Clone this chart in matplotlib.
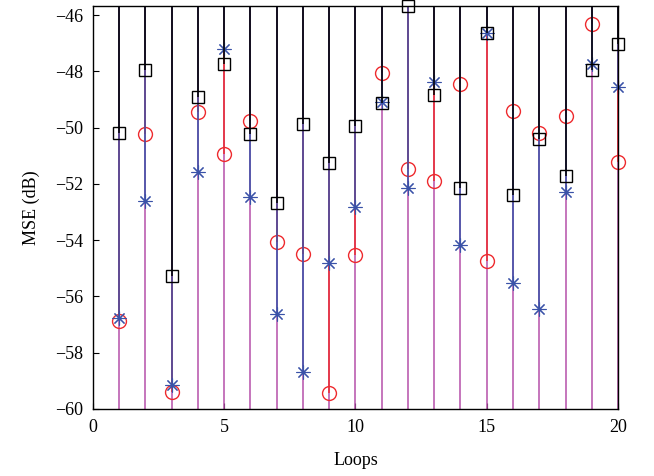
import matplotlib
matplotlib.use("Agg")
import matplotlib.pyplot as plt

loops = list(range(1, 21))

# MSE (dB) per loop
mse_square = [-50.18, -47.96, -55.29, -48.91, -47.72, -50.23, -52.69, -49.88, -51.26, -49.93,
              -49.14, -45.68, -48.84, -52.13, -46.62, -52.39, -50.40, -51.72, -47.94, -47.04]
mse_star = [-56.77, -52.61, -59.14, -51.59, -47.22, -52.45, -56.62, -58.69, -54.82, -52.81,
            -49.10, -52.13, -48.36, -54.19, -46.62, -55.51, -56.45, -52.27, -47.74, -48.55]
mse_circle = [-56.87, -50.24, -59.40, -49.44, -50.95, -49.75, -54.05, -54.50, -59.45, -54.52,
              -48.04, -51.46, -51.90, -48.43, -54.74, -49.41, -50.20, -49.58, -46.33, -51.21]
# fourth series lies below the visible range (only its stems show)
mse_low = [-65.0] * 20

plt.rcParams['font.family'] = ['Liberation Serif', 'DejaVu Serif']

fig = plt.figure(figsize=(6.54, 4.76), dpi=100)
ax = fig.add_axes([0.142, 0.141, 0.803, 0.846])

# MATLAB-like '*' = 8-armed asterisk
series = [
    (mse_low, '#b550aa', None, 0, 0),
    (mse_circle, '#ee2a2e', 'o', 10, 1.0),
    (mse_star, '#3a52a8', (8, 2, 0), 10, 0.8),
    (mse_square, '#000000', 's', 9, 1.0),
]

for vals, col, mk, ms, mew in series:
    markerline, stemlines, baseline = ax.stem(loops, vals, bottom=0, basefmt=' ')
    stemlines.set_color(col)
    stemlines.set_linewidth(1.1)
    baseline.set_visible(False)
    if mk is None:
        markerline.set_visible(False)
        continue
    markerline.set_marker(mk)
    markerline.set_markersize(ms)
    markerline.set_markerfacecolor('none')
    markerline.set_markeredgecolor(col)
    markerline.set_markeredgewidth(mew)
    markerline.set_clip_on(False)

ax.set_xlim(0, 20)
ax.set_ylim(-60, -45.68)
ax.set_xticks([0, 5, 10, 15, 20])
ax.set_yticks(range(-60, -45, 2))
ax.tick_params(direction='in', top=False, right=False, labelsize=13, length=4)
ax.tick_params(axis='x', pad=7)
ax.tick_params(axis='y', pad=7)
for s in ax.spines.values():
    s.set_linewidth(1.0)
    s.set_zorder(5)
ax.set_xlabel('Loops', fontsize=13, labelpad=12)
ax.set_ylabel('MSE (dB)', fontsize=13, labelpad=11)

fig.savefig('out.png', dpi=100)
